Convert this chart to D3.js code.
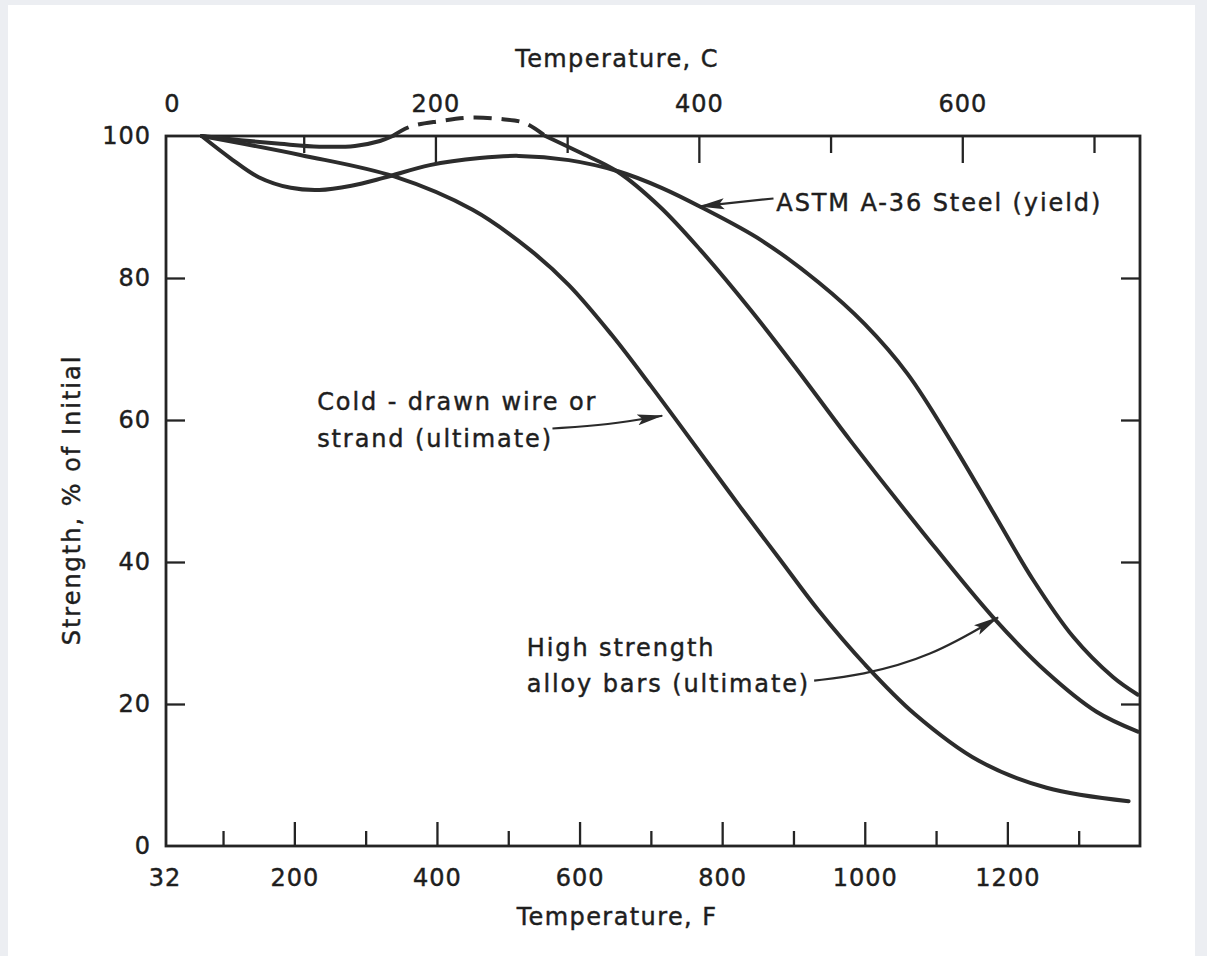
<!DOCTYPE html>
<html>
<head>
<meta charset="utf-8">
<script src="https://cdn.jsdelivr.net/npm/d3@7"></script>
<style>
  html, body { margin: 0; padding: 0; background: #eceef2; }
  svg { display: block; }
  text { font-family: "DejaVu Sans", "Liberation Sans", sans-serif; fill: #1e1e1e; stroke: #1e1e1e; stroke-width: 0.45px; }
</style>
</head>
<body>
<svg id="chart" width="1207" height="956"></svg>
<script>
// Strength retention of steels at elevated temperature (temperature in °F).
const a36TempF = [70, 110, 150, 195, 235, 280, 325, 390, 460, 515, 585, 655, 715, 770, 855, 935, 1000, 1060, 1124, 1180, 1236, 1292, 1348, 1383];
const a36Strength = [100, 96.9, 94.2, 92.7, 92.4, 93.0, 94.1, 95.9, 96.9, 97.2, 96.6, 95.0, 92.7, 90.0, 85.3, 79.4, 73.5, 66.5, 56.5, 47.0, 37.5, 29.5, 23.8, 21.3];

const alloyTempF = [70, 125, 180, 235, 285, 320, 338];
const alloyStrength = [100, 99.4, 98.9, 98.5, 98.6, 99.3, 100];
const alloyUncertainTempF = [338, 362, 404, 446, 489, 524, 552];
const alloyUncertainStrength = [100, 101.3, 102.1, 102.6, 102.4, 101.8, 100];
const alloyHotTempF = [552, 600, 653, 713, 769, 840, 902, 979, 1082, 1180, 1255, 1325, 1383];
const alloyHotStrength = [100, 97.7, 95.0, 90.0, 84.0, 75.5, 67.5, 57.2, 44.1, 32.2, 24.5, 18.9, 16.1];

const wireTempF = [70, 210, 340, 450, 530, 585, 645, 700, 770, 825, 880, 935, 1000, 1070, 1160, 1255, 1370];
const wireStrength = [100, 97.3, 94.3, 89.6, 84.0, 79.0, 72.0, 64.8, 55.3, 47.8, 40.5, 33.2, 25.6, 18.6, 12.0, 8.2, 6.3];

// Axis ticks
const fLabelTicks = [32, 200, 400, 600, 800, 1000, 1200];
const fMajorTicks = [200, 400, 600, 800, 1000, 1200];
const fMinorTicks = [100, 300, 500, 700, 900, 1100, 1300];
const cLabelTicks = [0, 200, 400, 600];
const cMajorTicks = [200, 400, 600];
const cMinorTicks = [100, 300, 500, 700];
const strengthLabelTicks = [0, 20, 40, 60, 80, 100];
const strengthInnerTicks = [20, 40, 60, 80];

// Annotation text and leaders (temperature °F, strength %)
const a36Label = "ASTM A-36 Steel (yield)";
const a36LabelAt = [876, 89.4];
const a36Leader = [[872, 91.2], [768, 90.1]];

const wireLabel = ["Cold - drawn wire or", "strand (ultimate)"];
const wireLabelAt = [232, 61.4];
const wireLeader = [[562, 58.8], [640, 59.3], [716, 60.6]];

const alloyLabel = ["High strength", "alloy bars (ultimate)"];
const alloyLabelAt = [526, 26.8];
const alloyLeader = [[929, 23.3], [993, 24.0], [1092, 26.6], [1187, 32.2]];

const svg = d3.select("#chart");
const W = 1207, H = 956;
const plot = { left: 166, right: 1140, top: 136, bottom: 846 };

// paper
svg.append("rect").attr("x", 8).attr("y", 5).attr("width", 1187).attr("height", H - 5).attr("fill", "#ffffff");

const x = d3.scaleLinear().domain([20, 1386]).range([plot.left, plot.right]);
const xC = d3.scaleLinear().domain([0, 700]).range([172, 1094]);
const y = d3.scaleLinear().domain([0, 100]).range([plot.bottom, plot.top]);

const ink = "#242424";

// frame
svg.append("rect")
  .attr("x", plot.left).attr("y", plot.top)
  .attr("width", plot.right - plot.left).attr("height", plot.bottom - plot.top)
  .attr("fill", "none").attr("stroke", ink).attr("stroke-width", 2.8);

function styleTicks(g) {
  g.select(".domain").remove();
  g.selectAll(".tick line").attr("stroke", ink).attr("stroke-width", 2.3);
  g.selectAll(".tick text").attr("font-size", 24).attr("letter-spacing", 1).attr("fill", "#1e1e1e");
}

// bottom °F ticks (inward)
svg.append("g").attr("transform", `translate(0,${plot.bottom})`)
  .call(d3.axisTop(x).tickValues(fMajorTicks).tickSize(24).tickFormat(""))
  .call(styleTicks);
svg.append("g").attr("transform", `translate(0,${plot.bottom})`)
  .call(d3.axisTop(x).tickValues(fMinorTicks).tickSize(15).tickFormat(""))
  .call(styleTicks);
const fLab = svg.append("g").attr("transform", `translate(0,${plot.bottom})`)
  .call(d3.axisBottom(x).tickValues(fLabelTicks).tickSize(0).tickPadding(23).tickFormat(d3.format("d")))
  .call(styleTicks);
fLab.selectAll(".tick").filter(d => d === 32).select("text").attr("dx", -10);

// top °C ticks (inward)
svg.append("g").attr("transform", `translate(0,${plot.top})`)
  .call(d3.axisBottom(xC).tickValues(cMajorTicks).tickSize(27).tickFormat(""))
  .call(styleTicks);
svg.append("g").attr("transform", `translate(0,${plot.top})`)
  .call(d3.axisBottom(xC).tickValues(cMinorTicks).tickSize(17).tickFormat(""))
  .call(styleTicks);
svg.append("g").attr("transform", `translate(0,${plot.top})`)
  .call(d3.axisTop(xC).tickValues(cLabelTicks).tickSize(0).tickPadding(24).tickFormat(d3.format("d")))
  .call(styleTicks);

// strength ticks, both sides
svg.append("g").attr("transform", `translate(${plot.left},0)`)
  .call(d3.axisRight(y).tickValues(strengthInnerTicks).tickSize(19).tickFormat(""))
  .call(styleTicks);
svg.append("g").attr("transform", `translate(${plot.right},0)`)
  .call(d3.axisLeft(y).tickValues(strengthInnerTicks).tickSize(19).tickFormat(""))
  .call(styleTicks);
svg.append("g").attr("transform", `translate(${plot.left},0)`)
  .call(d3.axisLeft(y).tickValues(strengthLabelTicks).tickSize(0).tickPadding(15).tickFormat(d3.format("d")))
  .call(styleTicks);

// axis titles
const titleStyle = t => t.attr("font-size", 24).attr("letter-spacing", 1.4).attr("text-anchor", "middle");
svg.append("text").attr("x", 617).attr("y", 67).call(titleStyle).text("Temperature, C");
svg.append("text").attr("x", 617).attr("y", 925).call(titleStyle).text("Temperature, F");
svg.append("text").attr("transform", "translate(80,500) rotate(-90)").call(titleStyle)
  .attr("letter-spacing", 2).text("Strength, % of Initial");

// curves
const curveLine = d3.line().x(d => x(d[0])).y(d => y(d[1])).curve(d3.curveCatmullRom.alpha(0.5));
const zipSeries = (t, s) => t.map((v, i) => [v, s[i]]);

const curves = svg.append("g").attr("fill", "none").attr("stroke", "#2c2c2c")
  .attr("stroke-width", 4).attr("stroke-linecap", "round").attr("stroke-linejoin", "round");
curves.append("path").attr("d", curveLine(zipSeries(a36TempF, a36Strength)));
curves.append("path").attr("d", curveLine(zipSeries(alloyTempF, alloyStrength)));
curves.append("path").attr("d", curveLine(zipSeries(alloyUncertainTempF, alloyUncertainStrength)))
  .attr("stroke-dasharray", "18,10").attr("stroke-linecap", "butt");
curves.append("path").attr("d", curveLine(zipSeries(alloyHotTempF, alloyHotStrength)));
curves.append("path").attr("d", curveLine(zipSeries(wireTempF, wireStrength)));

// arrowhead
svg.append("defs").append("marker")
  .attr("id", "arrowhead").attr("viewBox", "0 0 26 12")
  .attr("refX", 25).attr("refY", 6)
  .attr("markerWidth", 26).attr("markerHeight", 12)
  .attr("markerUnits", "userSpaceOnUse").attr("orient", "auto")
  .append("path").attr("d", "M0,0.5 L26,6 L0,11.5 L5,6 Z").attr("fill", "#2a2a2a");

const leaderLine = d3.line().x(d => x(d[0])).y(d => y(d[1])).curve(d3.curveBasis);
const leaders = svg.append("g").attr("fill", "none").attr("stroke", "#2a2a2a").attr("stroke-width", 2.2);
[a36Leader, wireLeader, alloyLeader].forEach(pts => {
  leaders.append("path").attr("d", leaderLine(pts)).attr("marker-end", "url(#arrowhead)");
});

// annotation text
const noteStyle = t => t.attr("font-size", 24).attr("letter-spacing", 1.9);
svg.append("text").attr("x", x(a36LabelAt[0])).attr("y", y(a36LabelAt[1])).call(noteStyle).text(a36Label);
const wt = svg.append("text").attr("x", x(wireLabelAt[0])).attr("y", y(wireLabelAt[1])).call(noteStyle);
wireLabel.forEach((s, i) => wt.append("tspan").attr("x", x(wireLabelAt[0])).attr("dy", i ? 37 : 0).text(s));
const at = svg.append("text").attr("x", x(alloyLabelAt[0])).attr("y", y(alloyLabelAt[1])).call(noteStyle);
alloyLabel.forEach((s, i) => at.append("tspan").attr("x", x(alloyLabelAt[0])).attr("dy", i ? 36 : 0).text(s));
</script>
</body>
</html>
